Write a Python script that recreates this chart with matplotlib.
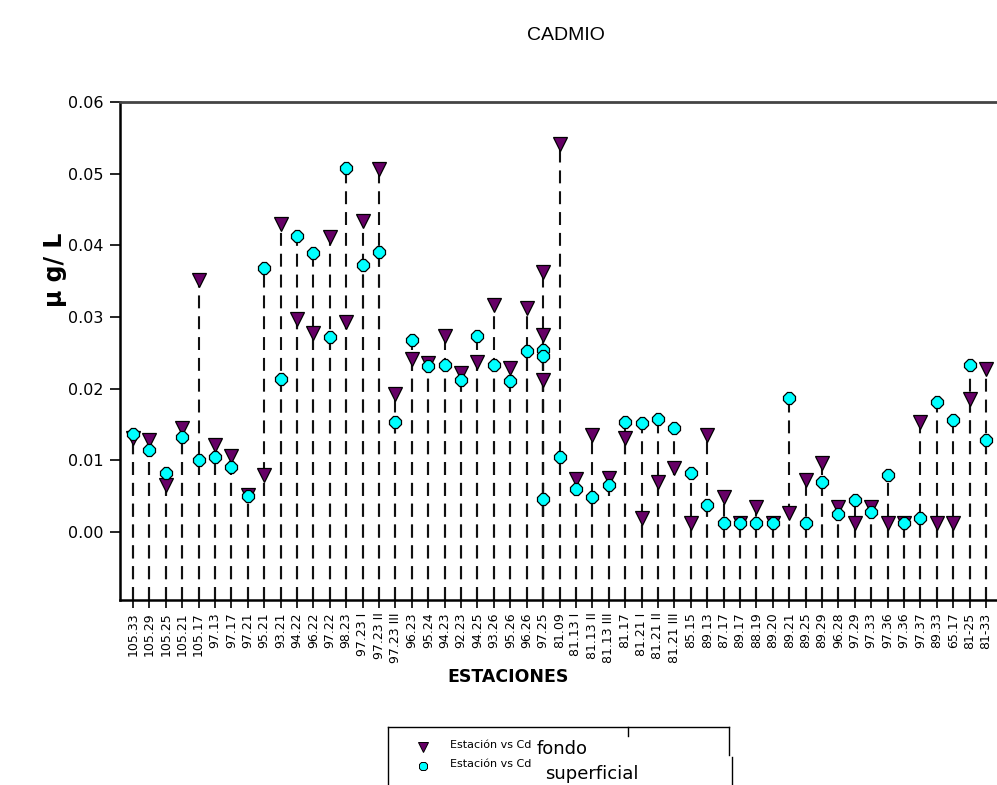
import matplotlib
matplotlib.use("Agg")
import matplotlib.pyplot as plt
from matplotlib.lines import Line2D
import numpy as np

# Sampling stations along the x axis
stations = [
    "105.33", "105.29", "105.25", "105.21", "105.17", "97.13", "97.17", "97.21",
    "95.21", "93.21", "94.22", "96.22", "97.22", "98.23", "97.23 I", "97.23 II",
    "97.23 III", "96.23", "95.24", "94.23", "92.23", "94.25", "93.26", "95.26",
    "96.26", "97.25", "81.09", "81.13 I", "81.13 II", "81.13 III", "81.17",
    "81.21 I", "81.21 II", "81.21 III", "85.15", "89.13", "87.17", "89.17",
    "88.19", "89.20", "89.21", "89.25", "89.29", "96.28", "97.29", "97.33",
    "97.36", "97.36", "97.37", "89.33", "65.17", "81-25", "81-33",
]

# Cadmium, bottom water (fondo), µg/L
cd_fondo = [
    0.0131, 0.0128, 0.0066, 0.0145, 0.0351, 0.0122, 0.0106, 0.0052,
    0.0080, 0.0430, 0.0297, 0.0278, 0.0412, 0.0293, 0.0434, 0.0506,
    0.0192, 0.0241, 0.0236, 0.0273, 0.0222, 0.0237, 0.0317, 0.0229,
    0.0312, 0.0363, 0.0541, 0.0074, 0.0135, 0.0075, 0.0131,
    0.0020, 0.0070, 0.0089, 0.0012, 0.0135, 0.0049, 0.0012,
    0.0035, 0.0012, 0.0027, 0.0072, 0.0096, 0.0035, 0.0012, 0.0035,
    0.0012, 0.0012, 0.0154, 0.0012, 0.0012, 0.0185, 0.0227,
]

# Cadmium, surface water (superficial), µg/L
cd_superficial = [
    0.0137, 0.0114, 0.0082, 0.0132, 0.0100, 0.0104, 0.0090, 0.0050,
    0.0368, 0.0213, 0.0413, 0.0389, 0.0272, 0.0508, 0.0373, 0.0391,
    0.0153, 0.0268, 0.0232, 0.0233, 0.0212, 0.0273, 0.0233, 0.0211,
    0.0253, 0.0254, 0.0105, 0.0060, 0.0049, 0.0066, 0.0153,
    0.0152, 0.0157, 0.0145, 0.0082, 0.0037, 0.0013, 0.0013,
    0.0013, 0.0013, 0.0187, 0.0013, 0.0069, 0.0025, 0.0045, 0.0028,
    0.0080, 0.0013, 0.0019, 0.0182, 0.0156, 0.0233, 0.0128,
]

# Repeated samples taken at station 97.25
repeat_station = "97.25"
repeat_fondo = [0.0275, 0.0212]
repeat_superficial = [0.0245, 0.0046]

y_ticks = [0.00, 0.01, 0.02, 0.03, 0.04, 0.05, 0.06]

PURPLE = "#660066"
CYAN = "#00FFFF"

W, H = 997, 785
fig = plt.figure(figsize=(W / 100, H / 100), dpi=100)
fig.patch.set_facecolor("white")


def fx(px):
    return px / W


def fy(py):
    return 1 - py / H


ax = fig.add_axes([fx(120), fy(600), fx(999) - fx(120), fy(102) - fy(600)])
ymin, ymax = -0.0095, 0.06
ax.set_ylim(ymin, ymax)
ax.set_xlim(-0.79, len(stations) - 1 + 0.79)

x = np.arange(len(stations))
rx = stations.index(repeat_station)

fondo_x = np.concatenate([x, [rx] * len(repeat_fondo)])
fondo_y = np.concatenate([cd_fondo, repeat_fondo])
sup_x = np.concatenate([x, [rx] * len(repeat_superficial)])
sup_y = np.concatenate([cd_superficial, repeat_superficial])

# Dashed drop lines from the bottom of the plot up to each sample
for xi, yi in zip(np.concatenate([fondo_x, sup_x]),
                  np.concatenate([fondo_y, sup_y])):
    ax.plot([xi, xi], [ymin, yi], color="#111111", lw=1.5,
            linestyle=(0, (6.2, 3.8)), dash_capstyle="butt", zorder=2)

ax.plot(fondo_x, fondo_y, linestyle="none", marker="v", markersize=10,
        markerfacecolor=PURPLE, markeredgecolor="black", markeredgewidth=0.9,
        zorder=3)
ax.plot(sup_x, sup_y, linestyle="none", marker="8", markersize=9,
        markerfacecolor=CYAN, markeredgecolor="black", markeredgewidth=0.9,
        zorder=4)

# Axes styling
ax.spines["right"].set_visible(False)
ax.spines["left"].set_linewidth(1.8)
ax.spines["bottom"].set_linewidth(1.8)
ax.spines["top"].set_linewidth(2.0)
ax.spines["top"].set_color("#444444")

ax.set_yticks(y_ticks)
ax.set_yticklabels([f"{v:.2f}" for v in y_ticks], fontsize=11.5,
                   family="DejaVu Sans")
ax.tick_params(axis="y", direction="out", length=7, width=1.2, pad=5)

ax.set_xticks(x)
ax.set_xticklabels(stations, rotation=90, fontsize=9, family="DejaVu Sans")
ax.tick_params(axis="x", direction="out", length=6, width=1.2, pad=3)

# Titles and axis labels
fig.text(fx(566), fy(35), "CADMIO", ha="center", va="center", fontsize=14,
         family="Liberation Sans")
fig.text(fx(55), fy(270), "µ g/ L", ha="center", va="center", rotation=90,
         fontsize=17, fontweight="bold", family="DejaVu Sans")
fig.text(fx(508), fy(677), "ESTACIONES", ha="center", va="center",
         fontsize=12.5, fontweight="bold", family="DejaVu Sans")

# Legend box
box_color = "black"
for (x0, y0), (x1, y1) in [((388, 727), (729, 727)), ((388, 727), (388, 790)),
                           ((729, 727), (729, 755)), ((732, 757), (732, 790)),
                           ((628, 727), (628, 736))]:
    fig.add_artist(Line2D([fx(x0), fx(x1)], [fy(y0), fy(y1)], color=box_color,
                          lw=1.0, transform=fig.transFigure))

fig.add_artist(Line2D([fx(423)], [fy(747)], marker="v", markersize=7,
                      markerfacecolor=PURPLE, markeredgecolor="black",
                      markeredgewidth=0.7, linestyle="none",
                      transform=fig.transFigure))
fig.add_artist(Line2D([fx(423)], [fy(766)], marker="8", markersize=6,
                      markerfacecolor=CYAN, markeredgecolor="black",
                      markeredgewidth=0.7, linestyle="none",
                      transform=fig.transFigure))

fig.text(fx(450), fy(745), "Estación vs Cd", ha="left", va="center",
         fontsize=8, family="DejaVu Sans")
fig.text(fx(537), fy(749), "fondo", ha="left", va="center",
         fontsize=13, family="DejaVu Sans")
fig.text(fx(450), fy(764), "Estación vs Cd", ha="left", va="center",
         fontsize=8, family="DejaVu Sans")
fig.text(fx(545), fy(774), "superficial", ha="left", va="center",
         fontsize=13, family="DejaVu Sans")

fig.savefig("out.png", dpi=100, facecolor="white")
